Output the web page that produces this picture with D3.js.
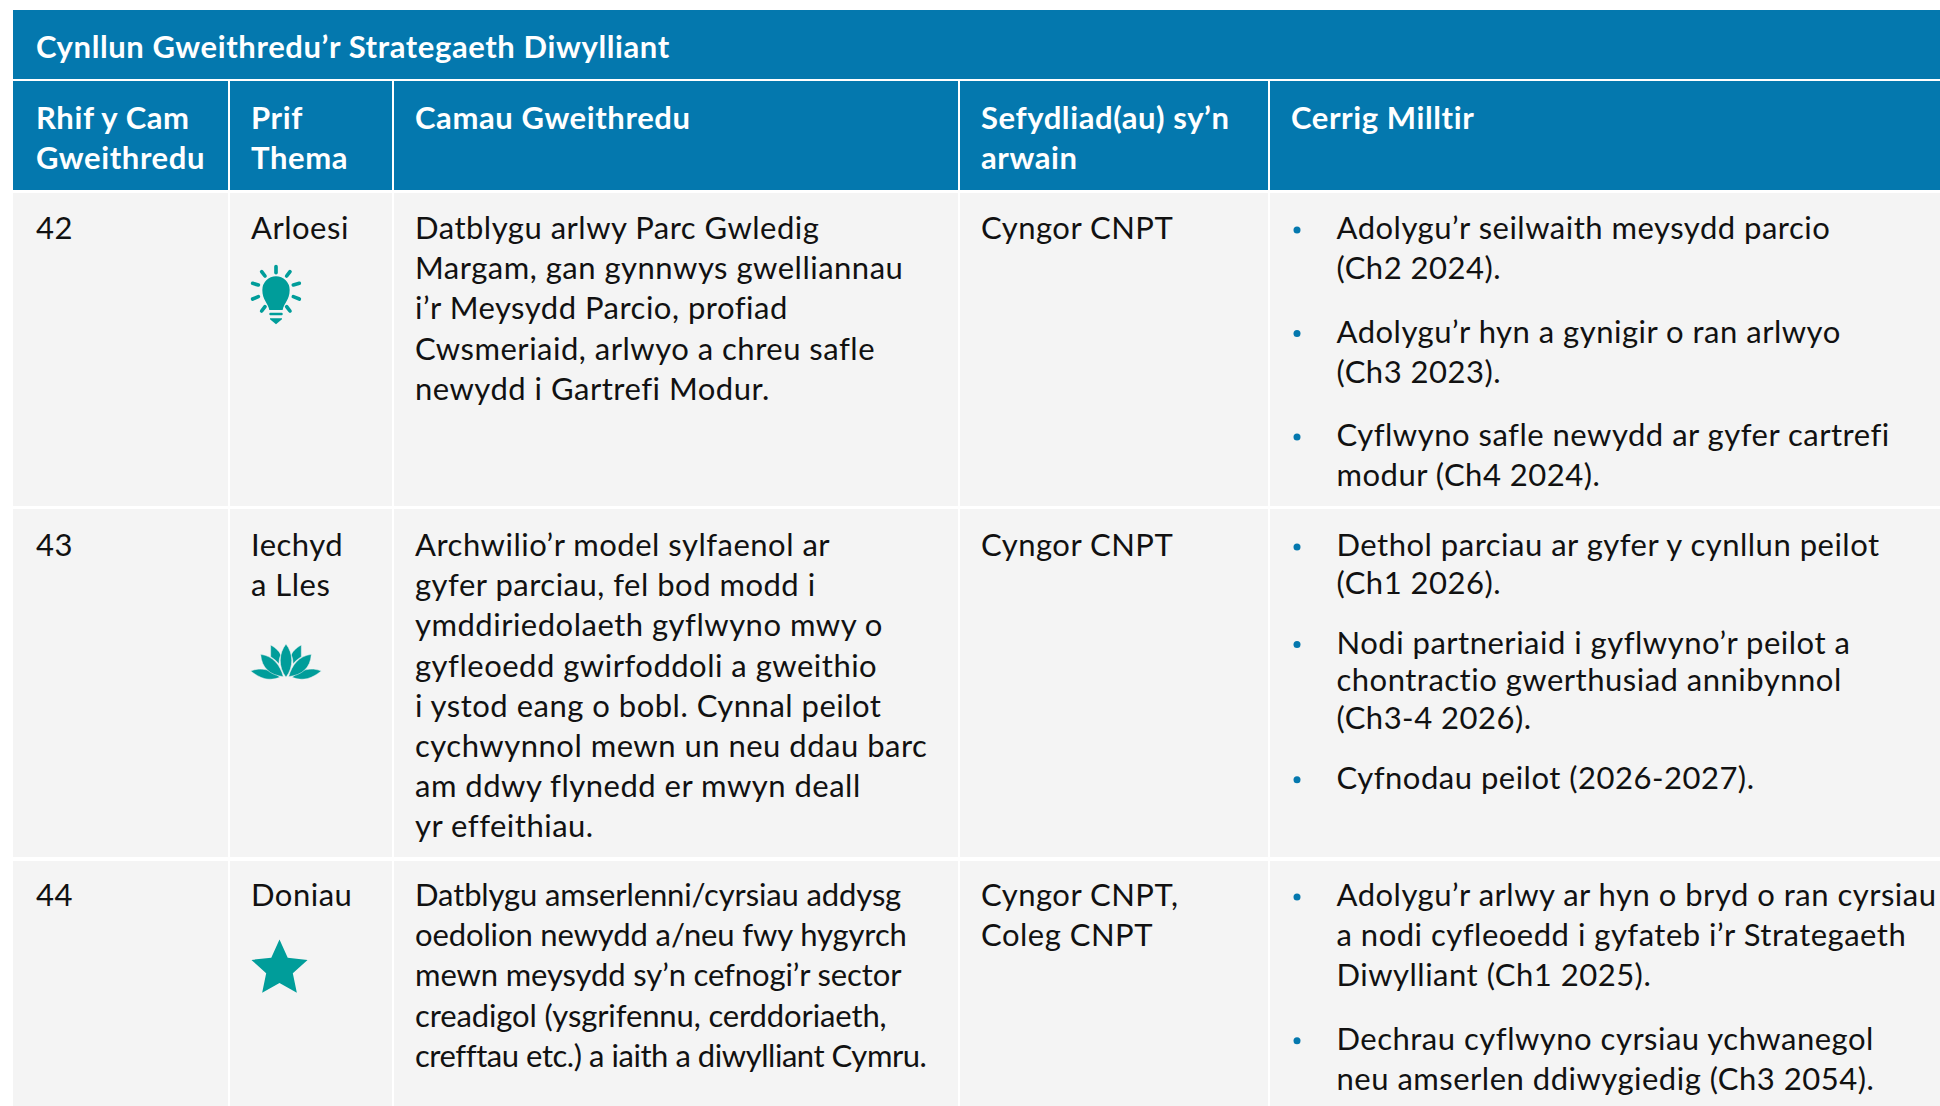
<!DOCTYPE html>
<html>
<head>
<meta charset="utf-8">
<script src="https://cdn.jsdelivr.net/npm/d3@7"></script>
<style>
  html, body { margin: 0; background: #fff; overflow: hidden; }
  text { font-family: Lato, sans-serif; font-variant-ligatures: none; letter-spacing: 0.5px; }
  text.bold { font-weight: 700; letter-spacing: 0.6px; }
  text.tight { letter-spacing: -0.12px; }
  text.tight:last-of-type { letter-spacing: -0.45px; }
</style>
</head>
<body>
<svg id="table" width="1940" height="1106"></svg>
<script>
const title = "Cynllun Gweithredu’r Strategaeth Diwylliant"
const columns = ["num", "theme", "action", "org", "miles"]
const headers = [
    ["Rhif y Cam", "Gweithredu"],
    ["Prif", "Thema"],
    ["Camau Gweithredu"],
    ["Sefydliad(au) sy’n", "arwain"],
    ["Cerrig Milltir"]
]
const numbers = ["42", "43", "44"]
const themes = [["Arloesi"], ["Iechyd", "a Lles"], ["Doniau"]]
const icons = ["bulb", "lotus", "star"]
const actions = [
    ["Datblygu arlwy Parc Gwledig", "Margam, gan gynnwys gwelliannau", "i’r Meysydd Parcio, profiad", "Cwsmeriaid, arlwyo a chreu safle", "newydd i Gartrefi Modur."],
    ["Archwilio’r model sylfaenol ar", "gyfer parciau, fel bod modd i", "ymddiriedolaeth gyflwyno mwy o", "gyfleoedd gwirfoddoli a gweithio", "i ystod eang o bobl. Cynnal peilot", "cychwynnol mewn un neu ddau barc", "am ddwy flynedd er mwyn deall", "yr effeithiau."],
    ["Datblygu amserlenni/cyrsiau addysg", "oedolion newydd a/neu fwy hygyrch", "mewn meysydd sy’n cefnogi’r sector", "creadigol (ysgrifennu, cerddoriaeth,", "crefftau etc.) a iaith a diwylliant Cymru."]
]
const orgs = [["Cyngor CNPT"], ["Cyngor CNPT"], ["Cyngor CNPT,", "Coleg CNPT"]]
const milestones = [
    [["Adolygu’r seilwaith meysydd parcio", "(Ch2 2024)."], ["Adolygu’r hyn a gynigir o ran arlwyo", "(Ch3 2023)."], ["Cyflwyno safle newydd ar gyfer cartrefi", "modur (Ch4 2024)."]],
    [["Dethol parciau ar gyfer y cynllun peilot", "(Ch1 2026)."], ["Nodi partneriaid i gyflwyno’r peilot a", "chontractio gwerthusiad annibynnol", "(Ch3-4 2026)."], ["Cyfnodau peilot (2026-2027)."]],
    [["Adolygu’r arlwy ar hyn o bryd o ran cyrsiau", "a nodi cyfleoedd i gyfateb i’r Strategaeth", "Diwylliant (Ch1 2025)."], ["Dechrau cyflwyno cyrsiau ychwanegol", "neu amserlen ddiwygiedig (Ch3 2054)."]]
]

const W = 1940, H = 1106
const BLUE = "#0478ae", GREY = "#f4f4f4", TEAL = "#009d9a", INK = "#111"
const FONT = 31, BOLD = 31, LINE = 40.2

const svg = d3.select("#table")

// column edges and row bands
const colLeft = d3.scaleOrdinal(columns, [13, 230, 394, 960, 1270])
const colRight = d3.scaleOrdinal(columns, [228, 392, 958, 1268, W])
const textX = d3.scaleOrdinal(columns, [36, 251, 415, 981, 1336.5])
const headX = d3.scaleOrdinal(columns, [36, 251, 415, 981, 1291])
const rowTop = d3.scaleOrdinal([0, 1, 2], [193, 509, 861])
const rowBottom = d3.scaleOrdinal([0, 1, 2], [506, 857, H])
const baseline = d3.scaleOrdinal([0, 1, 2], [239, 556, 906])
const mileLine = [40.2, 37.7, 40.2]
const mileGap = [63.3, 59.8, 63.3]

svg.append("rect").attr("x", 13).attr("y", 10).attr("width", W - 13).attr("height", 69).attr("fill", BLUE)
svg.append("text").attr("class", "bold").attr("x", 36).attr("y", 58)
    .attr("fill", "#fff").attr("font-size", BOLD)
    .text(title)

let head = svg.selectAll("g.head").data(columns).enter().append("g").attr("class", "head")
head.append("rect")
    .attr("x", d => colLeft(d)).attr("y", 81)
    .attr("width", d => colRight(d) - colLeft(d)).attr("height", 109)
    .attr("fill", BLUE)
head.each(function(d, i){
    d3.select(this).selectAll("text").data(headers[i]).enter().append("text")
        .attr("class", "bold")
        .attr("x", headX(d))
        .attr("y", (t, j) => 129 + j * LINE)
        .attr("fill", "#fff").attr("font-size", BOLD)
        .text(t => t)
})

// body cells
let cells = svg.selectAll("g.row").data(numbers).enter().append("g").attr("class", "row")
cells.each(function(n, r){
    let row = d3.select(this)
    row.selectAll("rect").data(columns).enter().append("rect")
        .attr("x", d => colLeft(d)).attr("y", rowTop(r))
        .attr("width", d => colRight(d) - colLeft(d))
        .attr("height", rowBottom(r) - rowTop(r))
        .attr("fill", GREY)

    drawLines(row.append("g"), [n], "num", r)
    drawLines(row.append("g"), themes[r], "theme", r)
    // last action cell is set tighter in the original
    drawLines(row.append("g"), actions[r], "action", r).classed("tight", r === 2)
    drawLines(row.append("g"), orgs[r], "org", r)

    let y = baseline(r)
    milestones[r].forEach(function(item){
        row.append("circle").attr("cx", 1297).attr("cy", y - 9).attr("r", 3.5).attr("fill", BLUE)
        item.forEach(function(line, j){
            row.append("text").attr("x", textX("miles")).attr("y", y + j * mileLine[r])
                .attr("fill", INK).attr("font-size", FONT).text(line)
        })
        y += (item.length - 1) * mileLine[r] + mileGap[r]
    })
})

function drawLines(g, lines, col, r){
    return g.selectAll("text").data(lines).enter().append("text")
        .attr("x", textX(col))
        .attr("y", (t, j) => baseline(r) + j * LINE)
        .attr("fill", INK).attr("font-size", FONT)
        .text(t => t)
}

// theme icons
const iconDraw = {
    bulb: function(g){
        g.attr("transform", "translate(230,250) scale(0.3333)")
        g.append("path").attr("fill", TEAL)
            .attr("d", "M118 180C115 160 97 150 97 120A41 41 0 0 1 179 120C179 150 161 160 158 180Z")
        g.append("rect").attr("x", 118).attr("y", 188).attr("width", 40).attr("height", 8).attr("rx", 3).attr("fill", TEAL)
        g.append("path").attr("fill", TEAL).attr("d", "M120 205H156V208L138 223L120 208Z")
        let rays = [[138,50,138,68],[95,65,105,78],[180,65,170,78],[68,100,85,105],[208,100,190,105],[68,147,85,140],[208,147,190,140],[95,183,105,170],[180,183,170,170]]
        g.selectAll("line").data(rays).enter().append("line")
            .attr("x1", d => d[0]).attr("y1", d => d[1]).attr("x2", d => d[2]).attr("y2", d => d[3])
            .attr("stroke", TEAL).attr("stroke-width", 11).attr("stroke-linecap", "round")
    },
    lotus: function(g){
        g.attr("transform", "translate(230,620) scale(0.3333)")
        let petals = [
            "M122 75C140 85 150 97 152 105C148 115 147 122 147 132C138 120 128 115 122 110Z",
            "M62 153C95 140 125 150 150 172C115 185 90 175 62 153Z",
            "M92 103C130 108 150 135 160 170C120 165 95 145 92 103Z"
        ]
        let side = g.selectAll("g").data([1, -1]).enter().append("g")
            .attr("transform", d => d === 1 ? null : "translate(336,0) scale(-1,1)")
        side.selectAll("path").data(petals).enter().append("path")
            .attr("d", d => d).attr("fill", TEAL).attr("stroke", GREY).attr("stroke-width", 1.5)
        g.append("path").attr("fill", TEAL).attr("stroke", GREY).attr("stroke-width", 1.5)
            .attr("d", "M168 72C190 100 192 140 168 172C144 140 146 100 168 72Z")
    },
    star: function(g){
        g.attr("transform", "translate(279.5,969)")
        let star = d3.lineRadial().curve(d3.curveLinearClosed)
        let pts = d3.range(10).map(i => [i * Math.PI / 5, i % 2 ? 14 : 29.5])
        g.append("path").attr("fill", TEAL).attr("d", star(pts))
    }
}
icons.forEach(name => iconDraw[name](svg.append("g")))
</script>
</body>
</html>
